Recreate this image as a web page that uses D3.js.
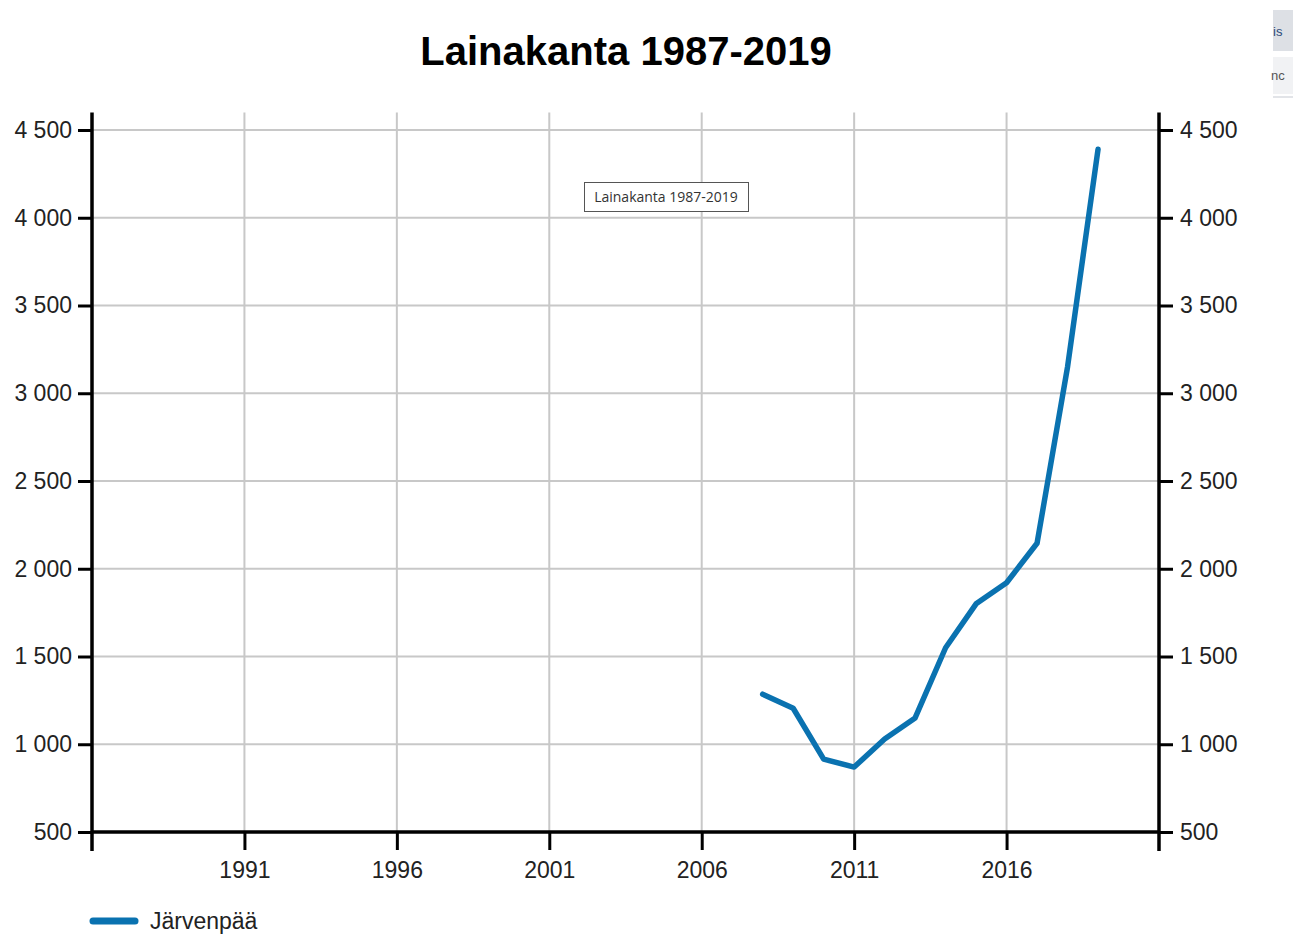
<!DOCTYPE html>
<html><head><meta charset="utf-8">
<script src="https://cdn.jsdelivr.net/npm/d3@7"></script>
<style>
body{margin:0;background:#fff;}
svg{display:block;}
</style></head>
<body>
<svg id="c" width="1293" height="934"></svg>
<script>
const title = "Lainakanta 1987-2019";
const seriesName = "Järvenpää";
const years = [2008, 2009, 2010, 2011, 2012, 2013, 2014, 2015, 2016, 2017, 2018, 2019];
const values = [1285, 1205, 915, 870, 1030, 1150, 1550, 1800, 1920, 2145, 3150, 4390];
const xTicks = [1991, 1996, 2001, 2006, 2011, 2016];
const yTicks = [500, 1000, 1500, 2000, 2500, 3000, 3500, 4000, 4500];
const xDomain = [1986, 2021];
const yDomain = [500, 4500];

const svg = d3.select("#c");
const L = 92, R = 1159, T = 130, B = 832;
const x = d3.scaleLinear().domain(xDomain).range([L, R]);
const y = d3.scaleLinear().domain(yDomain).range([B, T]);
const fmt = v => d3.format(",")(v).replace(/,/g, " ");
const font = "'Liberation Sans', Arial, sans-serif";

// top-right cropped UI fragment
svg.append("rect").attr("x", 1273).attr("y", 10).attr("width", 20).attr("height", 41).attr("fill", "#dde0e5");
svg.append("text").attr("x", 1273).attr("y", 36).attr("font-family", font).attr("font-size", 13).attr("fill", "#2b4a7a").text("is");
svg.append("rect").attr("x", 1273).attr("y", 57).attr("width", 20).attr("height", 37).attr("fill", "#f1f2f4");
svg.append("text").attr("x", 1271).attr("y", 80).attr("font-family", font).attr("font-size", 13).attr("fill", "#555").text("nc");
svg.append("rect").attr("x", 1273).attr("y", 96).attr("width", 20).attr("height", 2).attr("fill", "#e2e4e8");

// title
svg.append("text").attr("x", 626).attr("y", 65).attr("text-anchor", "middle")
  .attr("font-family", font).attr("font-weight", "bold").attr("font-size", 40).attr("fill", "#000").text(title);

// grid
const g = svg.append("g");
g.selectAll(".hg").data(yTicks).join("line")
  .attr("x1", L).attr("x2", R).attr("y1", d => y(d)).attr("y2", d => y(d))
  .attr("stroke", "#c8c8c8").attr("stroke-width", 2);
g.selectAll(".vg").data(xTicks).join("line")
  .attr("x1", d => x(d)).attr("x2", d => x(d)).attr("y1", y(4600)).attr("y2", B)
  .attr("stroke", "#c8c8c8").attr("stroke-width", 2);

// axes
const yl = d3.axisLeft(y).tickValues(yTicks).tickFormat(fmt).tickSize(14).tickPadding(6);
const yr = d3.axisRight(y).tickValues(yTicks).tickFormat(fmt).tickSize(14).tickPadding(7);
const xa = d3.axisBottom(x).tickValues(xTicks).tickFormat(d3.format("d")).tickSize(18).tickPadding(12);

function style(sel){
  sel.select(".domain").remove();
  sel.selectAll(".tick line").attr("stroke", "#000").attr("stroke-width", 3);
  sel.selectAll(".tick text").attr("font-family", font).attr("font-size", 23).attr("fill", "#222");
}
svg.append("g").attr("transform", `translate(${L},0)`).call(yl).call(style);
svg.append("g").attr("transform", `translate(${R},0)`).call(yr).call(style);
svg.append("g").attr("transform", `translate(0,${B})`).call(xa).call(style);

// axis lines
svg.append("line").attr("x1", L).attr("x2", L).attr("y1", y(4600)).attr("y2", B + 19).attr("stroke", "#000").attr("stroke-width", 3.5);
svg.append("line").attr("x1", R).attr("x2", R).attr("y1", y(4600)).attr("y2", B + 19).attr("stroke", "#000").attr("stroke-width", 3.5);
svg.append("line").attr("x1", L).attr("x2", R).attr("y1", B).attr("y2", B).attr("stroke", "#000").attr("stroke-width", 3.5);

// line
const data = years.map((yr, i) => ({yr, v: values[i]}));
svg.append("path").datum(data)
  .attr("d", d3.line().x(d => x(d.yr)).y(d => y(d.v)))
  .attr("fill", "none").attr("stroke", "#0a72b0").attr("stroke-width", 5.5)
  .attr("stroke-linejoin", "round").attr("stroke-linecap", "round");

// tooltip box
svg.append("rect").attr("x", 584.5).attr("y", 182.5).attr("width", 164).attr("height", 29)
  .attr("fill", "#fff").attr("stroke", "#555").attr("stroke-width", 1);
svg.append("text").attr("x", 666).attr("y", 202).attr("text-anchor", "middle")
  .attr("font-family", "'Open Sans', 'Noto Sans', sans-serif").attr("font-size", 14).attr("fill", "#333").text(title);

// legend
svg.append("line").attr("x1", 93).attr("x2", 135).attr("y1", 921).attr("y2", 921)
  .attr("stroke", "#0a72b0").attr("stroke-width", 7).attr("stroke-linecap", "round");
svg.append("text").attr("x", 150).attr("y", 929).attr("font-family", font).attr("font-size", 23).attr("fill", "#222").text(seriesName);
</script>
</body></html>
